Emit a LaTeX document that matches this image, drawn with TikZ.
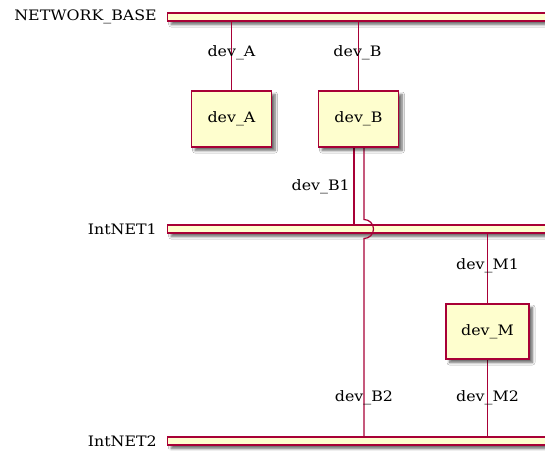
\documentclass[tikz,border=0pt]{standalone}
\usepackage{fontspec}
\setmainfont{DejaVu Serif}[FakeStretch=1.1]
\usetikzlibrary{shadows.blur,calc}
\definecolor{plborder}{HTML}{A80036}
\definecolor{plfill}{HTML}{FEFECE}
\tikzset{
  sh/.style={blur shadow={shadow xshift=3.5pt,shadow yshift=-3.5pt,shadow blur steps=6,shadow blur radius=2.5pt,shadow opacity=60}},
  devbox/.style={draw=plborder,fill=plfill,line width=1.4pt,minimum width=80pt,minimum height=56pt,inner sep=0pt,font=\fontsize{14.4}{16}\selectfont,sh},
  netbar/.style={draw=plborder,fill=plfill,line width=1.4pt,minimum width=400pt,minimum height=8pt,inner sep=0pt,anchor=west,sh},
  netlabel/.style={anchor=east,font=\fontsize{14.4}{16}\selectfont,inner sep=0pt},
  conn/.style={draw=plborder,line width=1.2pt},
  clabel/.style={font=\fontsize{14.4}{16}\selectfont,inner sep=0pt},
}
\begin{document}
\begin{tikzpicture}[x=1pt,y=-1pt]
\useasboundingbox (0,0) rectangle (545,450);
\clip (0,0) rectangle (545,450);
\fill[white] (0,0) rectangle (545,450);
% networks
\node[netbar] (base) at (167,17) {};
\node[netbar] (net1) at (167,229) {};
\node[netbar] (net2) at (167,441) {};
\node[netlabel] (lbase) at (157,17) {NETWORK\_BASE};
\node[netlabel] (lnet1) at (157,229) {IntNET1};
\node[netlabel] (lnet2) at (157,441) {IntNET2};
% connectors
\draw[conn] (231.5,91) coordinate (ca) -- (ca |- base.south);
\draw[conn] (358.5,91) coordinate (cb) -- (cb |- base.south);
\draw[conn] (354,147) coordinate (b1) -- (b1 |- net1.north);
\draw[conn] (364,147) coordinate (b2) -- ([yshift=9.5pt]b2 |- net1.center)
   arc[start angle=90,end angle=-90,radius=9.5pt] -- (b2 |- net2.north);
\draw[conn] (487.5,304) coordinate (cm1) -- (cm1 |- net1.south);
\draw[conn] (487.5,359) coordinate (cm2) -- (cm2 |- net2.north);
% devices
\node[devbox] (devA) at (231.5,119) {dev\_A};
\node[devbox] (devB) at (358.5,119) {dev\_B};
\node[devbox,minimum width=83pt,minimum height=55pt] (devM) at (487.5,331.5) {dev\_M};
% connector labels
\node[clabel] (la) at (231.5,53) {dev\_A};
\node[clabel] (lb) at (357.5,53) {dev\_B};
\node[clabel,anchor=east] (lb1) at (350,187) {dev\_B1};
\node[clabel] (lb2) at (364,398) {dev\_B2};
\node[clabel] (lm1) at (487.5,266) {dev\_M1};
\node[clabel] (lm2) at (487.5,398) {dev\_M2};
\end{tikzpicture}
\end{document}
